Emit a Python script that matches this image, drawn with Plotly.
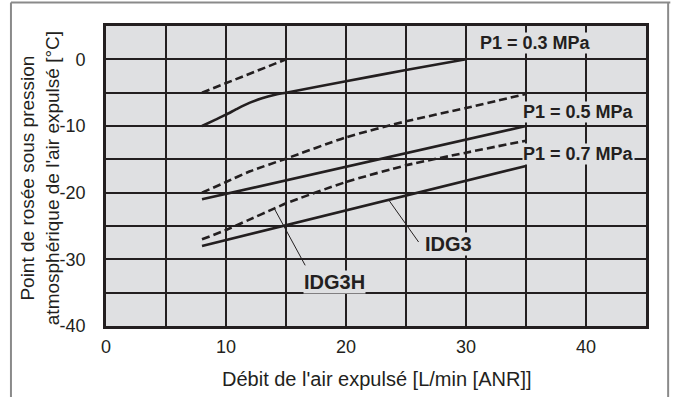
import plotly.graph_objects as go

# Dew point vs. exhaust flow for IDG3 (solid) and IDG3H (dashed) at three inlet pressures
flow_03_idg3 = [8, 9, 10, 11, 12, 13, 14, 15, 20, 25, 30]
dew_03_idg3 = [-10, -9.15, -8.3, -7.35, -6.5, -5.85, -5.35, -5.0, -3.3, -1.6, 0]

flow_03_idg3h = [8, 15]
dew_03_idg3h = [-5, 0]

flow_05_idg3 = [8, 35]
dew_05_idg3 = [-21, -10]

flow_05_idg3h = [8, 10, 12, 15, 20, 25, 30, 35]
dew_05_idg3h = [-20, -18.4, -16.8, -14.9, -11.7, -9.3, -7.3, -5.2]

flow_07_idg3 = [8, 35]
dew_07_idg3 = [-28, -16]

flow_07_idg3h = [8, 10, 12, 14, 15, 20, 25, 30, 35]
dew_07_idg3h = [-27, -25.6, -24.0, -22.4, -21.6, -18.4, -15.9, -14.0, -12.2]

# Pressure labels: text, x, y
pressure_labels = ["P1 = 0.3 MPa", "P1 = 0.5 MPa", "P1 = 0.7 MPa"]
pressure_label_x = [35.8, 39.4, 39.4]
pressure_label_y = [2.45, -7.9, -14.25]

# Model callouts: name, point on curve, end of leader, label centre
model_names = ["IDG3", "IDG3H"]
leader_start_x = [23.6, 14.0]
leader_start_y = [-21.2, -22.3]
leader_end_x = [26.05, 16.6]
leader_end_y = [-27.4, -30.9]
model_label_x = [28.55, 19.05]
model_label_y = [-27.75, -33.4]

x_ticks = [0, 5, 10, 15, 20, 25, 30, 35, 40, 45]
x_tick_text = ["0", "", "10", "", "20", "", "30", "", "40", ""]
y_ticks = [-40, -35, -30, -25, -20, -15, -10, -5, 0, 5]
y_tick_text = ["-40", "", "-30", "", "-20", "", "-10", "", "0", ""]

INK = "#231f20"
PLOT_BG = "#dfe0e2"
FONT = "Liberation Sans, Arial, Helvetica, sans-serif"

fig = go.Figure()

series = [
    (flow_03_idg3, dew_03_idg3, "solid", "spline"),
    (flow_03_idg3h, dew_03_idg3h, "8px,4px", "linear"),
    (flow_05_idg3, dew_05_idg3, "solid", "linear"),
    (flow_05_idg3h, dew_05_idg3h, "8px,4px", "spline"),
    (flow_07_idg3, dew_07_idg3, "solid", "linear"),
    (flow_07_idg3h, dew_07_idg3h, "8px,4px", "spline"),
]
for xs, ys, dash, shape in series:
    fig.add_trace(go.Scatter(
        x=xs, y=ys, mode="lines",
        line=dict(color=INK, width=2.6, dash=dash, shape=shape, smoothing=0.6),
        showlegend=False, hoverinfo="skip",
    ))

# Leader lines from the curves to the model labels
for x0, y0, x1, y1 in zip(leader_start_x, leader_start_y, leader_end_x, leader_end_y):
    fig.add_trace(go.Scatter(
        x=[x0, x1], y=[y0, y1], mode="lines",
        line=dict(color=INK, width=1),
        showlegend=False, hoverinfo="skip",
    ))

for text, x, y in zip(pressure_labels, pressure_label_x, pressure_label_y):
    fig.add_annotation(
        x=x, y=y, xref="x", yref="y", text=f"<b>{text}</b>", showarrow=False,
        font=dict(family=FONT, size=18, color=INK),
        bgcolor=PLOT_BG, borderpad=0, xanchor="center", yanchor="middle",
    )

for text, x, y in zip(model_names, model_label_x, model_label_y):
    fig.add_annotation(
        x=x, y=y, xref="x", yref="y", text=f"<b>{text}</b>", showarrow=False,
        font=dict(family=FONT, size=20, color=INK),
        bgcolor=PLOT_BG, borderpad=0, xanchor="center", yanchor="middle",
    )

# Axis titles
fig.add_annotation(
    x=0.502, y=-0.175, xref="paper", yref="paper",
    text="Débit de l'air expulsé [L/min [ANR]]", showarrow=False,
    font=dict(family=FONT, size=20, color=INK), xanchor="center", yanchor="middle",
)
fig.add_annotation(
    x=-0.122, y=0.493, xref="paper", yref="paper", textangle=-90,
    text="Point de rosée sous pression<br>atmosphérique de l'air expulsé [°C]",
    showarrow=False, font=dict(family=FONT, size=19, color=INK),
    xanchor="center", yanchor="middle",
)

# Grey outer frame (open at the bottom)
frame = dict(color="#8a8a8a", width=2)
fig.add_shape(type="line", xref="paper", yref="paper", x0=-0.176, x1=-0.176, y0=1.078, y1=-0.4, line=frame)
fig.add_shape(type="line", xref="paper", yref="paper", x0=-0.176, x1=1.045, y0=1.078, y1=1.078, line=frame)
fig.add_shape(type="line", xref="paper", yref="paper", x0=1.041, x1=1.041, y0=1.078, y1=-0.4, line=frame)

axis_common = dict(
    showgrid=True, gridcolor=INK, gridwidth=2,
    showline=True, linecolor=INK, linewidth=2.6, mirror=True,
    zeroline=False, ticks="outside", tickcolor="rgba(0,0,0,0)",
    tickfont=dict(family=FONT, size=18, color=INK),
    tickmode="array", fixedrange=True,
)

fig.update_xaxes(range=[0, 45], tickvals=x_ticks, ticktext=x_tick_text, ticklen=3, **axis_common)
fig.update_yaxes(range=[-40, 5], tickvals=y_ticks, ticktext=y_tick_text, ticklen=14, **axis_common)

fig.update_layout(
    width=674, height=397,
    margin=dict(l=106, r=28, t=26, b=71),
    plot_bgcolor=PLOT_BG, paper_bgcolor="white",
    font=dict(family=FONT, color=INK),
    showlegend=False,
)

fig.write_html("out.html")
